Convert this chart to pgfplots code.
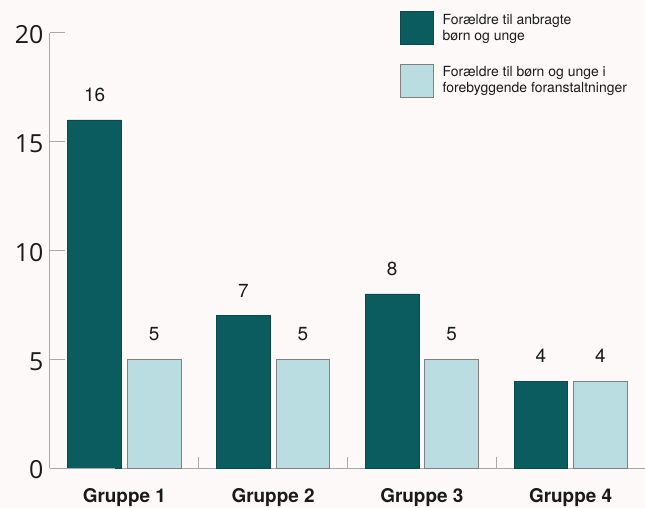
\documentclass[border=0pt]{standalone}
\usepackage{pgfplots}
\pgfplotsset{compat=1.18}
\usepackage{fontspec}
\setmainfont{TeX Gyre Heros}
\newfontfamily\tickfont{Open Sans}
\definecolor{bg}{HTML}{FCF9F8}
\definecolor{dark}{HTML}{0B5C5E}
\definecolor{light}{HTML}{B9DDE0}
\definecolor{axisgray}{HTML}{A8A8A8}
\definecolor{txt}{HTML}{1A1A1A}

\begin{document}
\begin{tikzpicture}
\path[use as bounding box, fill=bg] (-50bp,-40bp) rectangle (595bp,468bp);
\begin{axis}[
    scale only axis, width=595bp, height=435bp,
    xmin=-0.5, xmax=3.5, ymin=0, ymax=20,
    enlargelimits=false,
    /pgf/number format/assume math mode=true,
    axis x line*=bottom, axis y line*=left,
    axis line style={axisgray, line width=1bp, -},
    ybar, bar width=0.36,
    ytick={0,5,10,15,20},
    tick align=inside,
    major tick length=15bp,
    y tick style={axisgray, line width=1bp},
    yticklabel style={font=\tickfont\fontsize{25}{28}\selectfont, text=txt, xshift=-3bp, yshift=-2bp},
    xtick={0,1,2,3},
    xticklabels={Gruppe 1,Gruppe 2,Gruppe 3,Gruppe 4},
    x tick style={draw=none},
    xticklabel style={font=\bfseries\fontsize{19}{22}\selectfont, text=txt, yshift=-17bp},
    extra x ticks={0.5,1.5,2.5},
    extra x tick labels={},
    extra x tick style={major tick length=11bp, x tick style={draw=axisgray, line width=1bp}},
    nodes near coords,
    every node near coord/.append style={font=\fontsize{19}{21}\selectfont, text=txt, yshift=15bp},
    legend cell align=left,
    legend image code/.code={\draw[#1] (0bp,-16.5bp) rectangle (33bp,16.5bp);},
    legend style={at={(0.588,1.0506)}, anchor=north west, draw=none, fill=none,
        inner sep=0pt, outer sep=0pt, row sep=19bp, /tikz/column sep=9bp,
        font=\fontsize{14}{16}\selectfont,
        nodes={align=left, inner sep=0pt, text=txt}},
]
\addplot[fill=dark, draw=dark!80!black, line width=0.75bp, bar shift=-0.2]
    coordinates {(0,16) (1,7) (2,8) (3,4)};
\addlegendentry{{Forældre til anbragte\\børn og unge}}
\addplot[fill=light, draw=gray, line width=0.75bp, bar shift=0.2]
    coordinates {(0,5) (1,5) (2,5) (3,4)};
\addlegendentry{{Forældre til børn og unge i\\forebyggende foranstaltninger}}
\draw[axisgray, line width=1bp] (rel axis cs:0,0) -- ++(-9bp,0);
\end{axis}
\end{tikzpicture}
\end{document}
